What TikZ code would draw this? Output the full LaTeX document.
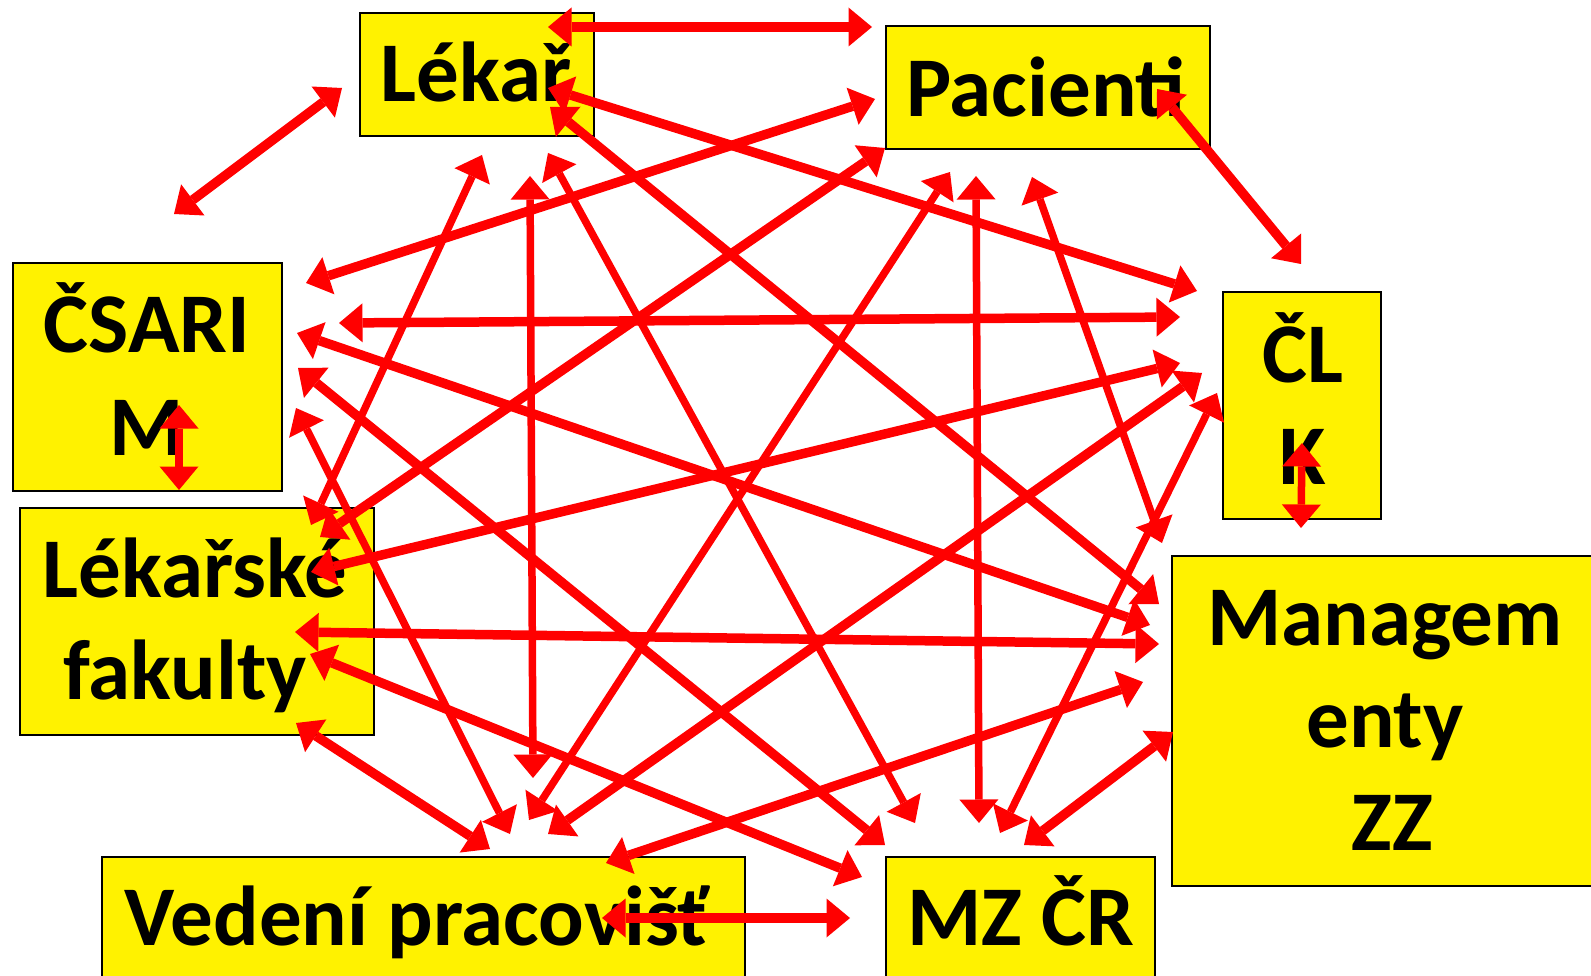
\documentclass[tikz,border=0pt]{standalone}
\usepackage{fontspec}
\setmainfont{Carlito}
\usetikzlibrary{arrows.meta}
\newcommand\stk[1]{\vtop{\baselineskip=102.5pt\halign{\hfil##\hfil\cr#1\crcr}}}
\begin{document}
\begin{tikzpicture}[x=1pt,y=-1pt,
  box/.style={draw=black,line width=1.5pt,fill=yellow,inner sep=0pt},
  lbl/.style={font=\fontsize{85}{102.5}\selectfont\bfseries,anchor=base,inner sep=0pt},
  con/.style={draw=red,line width=9.5pt,{Triangle[length=23.5pt,width=39pt,line width=0pt]}-{Triangle[length=23.5pt,width=39pt,line width=0pt]}},
  lite/.style={line width=7.5pt}]
\fill[white] (0,0) rectangle (1591,976);
\path[use as bounding box] (0,0) rectangle (1591,976);
% boxes
\node[box,minimum width=234pt,minimum height=123pt] (lekar) at (477,74.5) {};
\node[box,minimum width=324pt,minimum height=123pt] (pac) at (1048,87.5) {};
\node[box,minimum width=269pt,minimum height=228pt] (csarim) at (147.5,377) {};
\node[box,minimum width=158pt,minimum height=227pt] (clk) at (1302,405.5) {};
\node[box,minimum width=354pt,minimum height=227pt] (lf) at (197,621.5) {};
\node[box,minimum width=428pt,minimum height=330pt] (mgmt) at (1386,721) {};
\node[box,minimum width=643pt,minimum height=133pt] (ved) at (423.5,923.5) {};
\node[box,minimum width=269pt,minimum height=133pt] (mz) at (1020.5,923.5) {};
% texts
\node[lbl] (lekarT) at (476,102) {Lékař};
\node[lbl] (pacT) at (1046,117) {Pacienti};
\node[lbl] (csarimT) at (147,353) {\stk{ČSARI\cr M}};
\node[lbl] (clkT) at (1303,382) {\stk{ČL\cr K}};
\node[lbl] (lfT) at (195,597) {\stk{Lékařské\cr fakulty\kern20pt}};
\node[lbl] (mgmtT) at (1385,645) {\stk{Managem\cr enty\cr \kern15pt ZZ}};
\node[lbl] (vedT) at (417,945) {Vedení pracovišť};
\node[lbl] (mzT) at (1021,945) {MZ ČR};
% connector end points
\coordinate (LP1) at (548,27);   \coordinate (LP2) at (872,27);
\coordinate (LS1) at (342,88);   \coordinate (LS2) at (174,214);
\coordinate (PK1) at (1157,89);  \coordinate (PK2) at (1301,264);
\coordinate (LK1) at (548,88);   \coordinate (LK2) at (1197,291);
\coordinate (LM1) at (550,107);  \coordinate (LM2) at (1159,604);
\coordinate (PS1) at (875,99);   \coordinate (PS2) at (306,283);
\coordinate (SK1) at (339,323);  \coordinate (SK2) at (1180,317);
\coordinate (SM1) at (297,333);  \coordinate (SM2) at (1150,625);
\coordinate (FK1) at (311,572);  \coordinate (FK2) at (1180,363);
\coordinate (FM1) at (295,632);  \coordinate (FM2) at (1159,644);
\coordinate (FZ1) at (310,654);  \coordinate (FZ2) at (862,877);
\coordinate (FV1) at (296,723);  \coordinate (FV2) at (490,849);
\coordinate (MV1) at (1143,682); \coordinate (MV2) at (606,863);
\coordinate (MZ1) at (1173,732); \coordinate (MZ2) at (1024,845);
\coordinate (VZ1) at (602,918);  \coordinate (VZ2) at (850,918);
\coordinate (PF1) at (885,148);  \coordinate (PF2) at (320,537);
\coordinate (SZ1) at (298,368);  \coordinate (SZ2) at (885,845);
\coordinate (KV1) at (1202,373); \coordinate (KV2) at (548,834);
\coordinate (LF1) at (482,155);  \coordinate (LF2) at (311,525);
\coordinate (LV1) at (530,176);  \coordinate (LV2) at (533,778);
\coordinate (LZ1) at (548,153);  \coordinate (LZ2) at (915,823);
\coordinate (PV1) at (950,172);  \coordinate (PV2) at (529,820);
\coordinate (PZ1) at (976,176);  \coordinate (PZ2) at (979,823);
\coordinate (PM1) at (1032,177); \coordinate (PM2) at (1162,543);
\coordinate (SV1) at (296,408);  \coordinate (SV2) at (510,834);
\coordinate (KZ1) at (1217,393); \coordinate (KZ2) at (1000,833);
\coordinate (SF1) at (179,405);  \coordinate (SF2) at (179,490);
\coordinate (KM1) at (1302,443); \coordinate (KM2) at (1301,528);
% connectors
\draw[con] (LP1) -- (LP2);
\draw[con] (LS1) -- (LS2);
\draw[con] (PK1) -- (PK2);
\draw[con] (LK1) -- (LK2);
\draw[con] (LM1) -- (LM2);
\draw[con] (PS1) -- (PS2);
\draw[con] (SK1) -- (SK2);
\draw[con] (SM1) -- (SM2);
\draw[con] (FK1) -- (FK2);
\draw[con] (FM1) -- (FM2);
\draw[con] (FZ1) -- (FZ2);
\draw[con] (FV1) -- (FV2);
\draw[con] (MV1) -- (MV2);
\draw[con] (MZ1) -- (MZ2);
\draw[con] (VZ1) -- (VZ2);
\draw[con] (PF1) -- (PF2);
\draw[con] (SZ1) -- (SZ2);
\draw[con] (KV1) -- (KV2);
\draw[con,lite] (LF1) -- (LF2);
\draw[con,lite] (LV1) -- (LV2);
\draw[con,lite] (LZ1) -- (LZ2);
\draw[con,lite] (PV1) -- (PV2);
\draw[con,lite] (PZ1) -- (PZ2);
\draw[con,lite] (PM1) -- (PM2);
\draw[con,lite] (SV1) -- (SV2);
\draw[con,lite] (KZ1) -- (KZ2);
\draw[con,lite] (SF1) -- (SF2);
\draw[con,lite] (KM1) -- (KM2);
\end{tikzpicture}
\end{document}
